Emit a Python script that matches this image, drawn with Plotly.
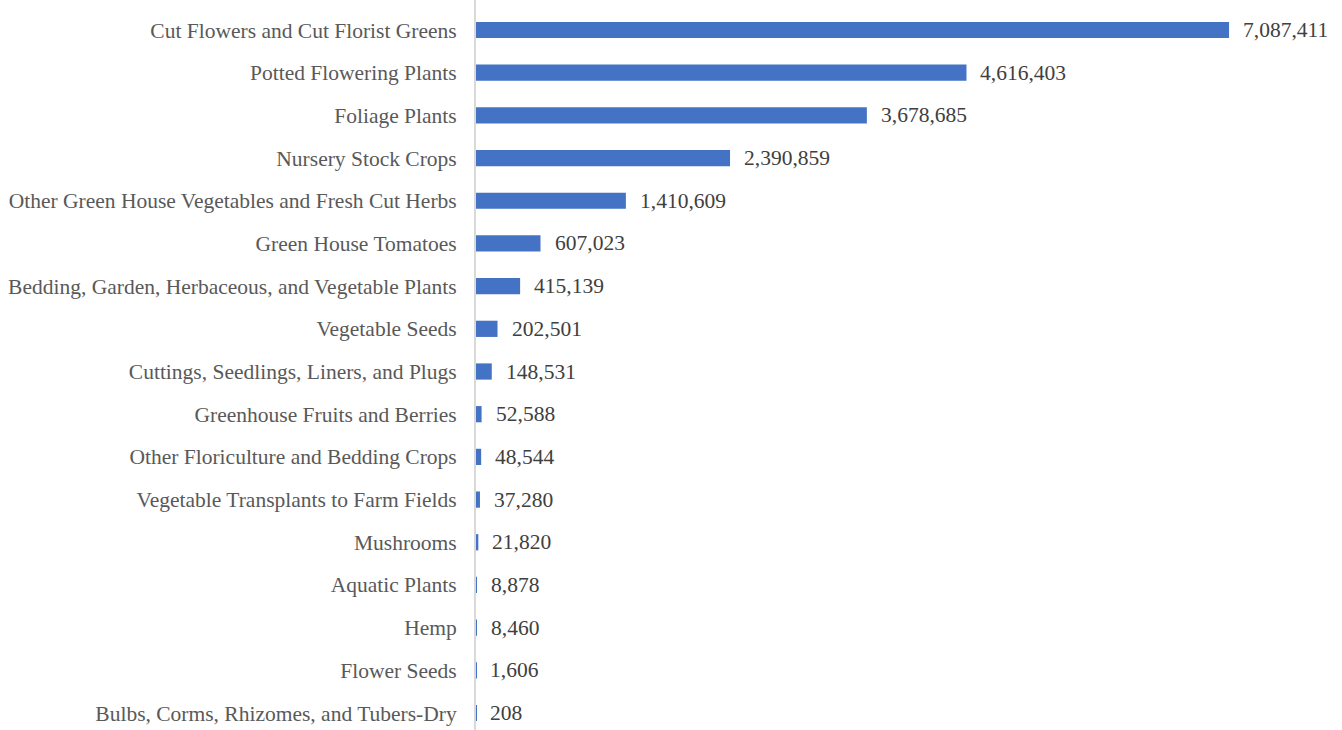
import plotly.graph_objects as go

categories = [
    "Cut Flowers and Cut Florist Greens",
    "Potted Flowering Plants",
    "Foliage Plants",
    "Nursery Stock Crops",
    "Other Green House Vegetables and Fresh Cut Herbs",
    "Green House Tomatoes",
    "Bedding, Garden, Herbaceous, and Vegetable Plants",
    "Vegetable Seeds",
    "Cuttings, Seedlings, Liners, and Plugs",
    "Greenhouse Fruits and Berries",
    "Other Floriculture and Bedding Crops",
    "Vegetable Transplants to Farm Fields",
    "Mushrooms",
    "Aquatic Plants",
    "Hemp",
    "Flower Seeds",
    "Bulbs, Corms, Rhizomes, and Tubers-Dry",
]
values = [7087411, 4616403, 3678685, 2390859, 1410609, 607023, 415139, 202501,
          148531, 52588, 48544, 37280, 21820, 8878, 8460, 1606, 208]

FONT = "Liberation Serif, Times New Roman, serif"
FS = 21.5

fig = go.Figure()
fig.add_trace(go.Bar(
    x=values, y=categories, orientation="h",
    marker=dict(color="#4472C4", line=dict(width=0)),
    width=0.38,
    hoverinfo="x+y",
))

for c, v in zip(categories, values):
    fig.add_annotation(x=v, y=c, text=f"{v:,}", showarrow=False,
                       xanchor="left", yanchor="middle", xshift=12,
                       font=dict(family=FONT, size=FS, color="#404040"))

fig.update_layout(
    width=1342, height=730,
    margin=dict(l=476, r=16, t=0, b=0),
    paper_bgcolor="white", plot_bgcolor="white",
    showlegend=False,
    font=dict(family=FONT, size=FS, color="#595959"),
    xaxis=dict(range=[0, 8000000], visible=False, showgrid=False, zeroline=False),
    yaxis=dict(type="category", categoryorder="array", categoryarray=categories,
               range=[16.398, -0.703], showgrid=False, zeroline=False,
               showline=True, linecolor="#d9d9d9", linewidth=2,
               ticks="", ticklabelstandoff=13,
               tickfont=dict(family=FONT, size=FS, color="#595959")),
)

fig.write_html("out.html")
